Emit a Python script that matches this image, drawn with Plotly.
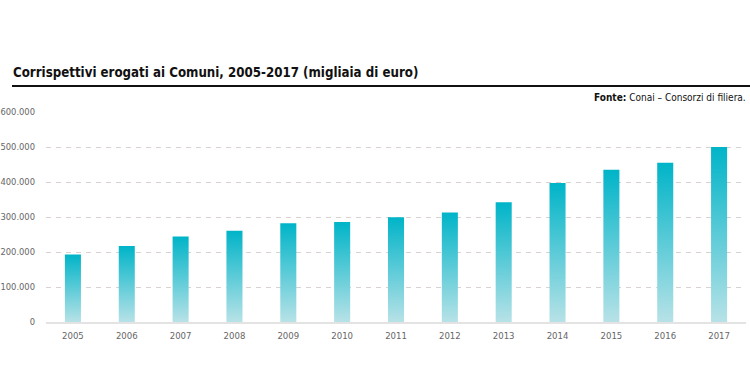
import plotly.graph_objects as go

years = ["2005", "2006", "2007", "2008", "2009", "2010", "2011",
         "2012", "2013", "2014", "2015", "2016", "2017"]
values = [193000, 217000, 244000, 261000, 282000, 286000, 299000,
          313000, 342000, 397000, 435000, 455000, 500000]
y_tick_vals = [0, 100000, 200000, 300000, 400000, 500000, 600000]
y_tick_text = ["0", "100.000", "200.000", "300.000", "400.000", "500.000", "600.000"]

title_text = "Corrispettivi erogati ai Comuni, 2005-2017 (migliaia di euro)"
source_text = "<b>Fonte:</b> Conai – Consorzi di filiera."

FONT = "DejaVu Sans Condensed, Liberation Sans Narrow, sans-serif"
HALF = 0.149

fig = go.Figure()
for i, (yr, v) in enumerate(zip(years, values)):
    fig.add_trace(go.Scatter(
        x=[i - HALF, i + HALF, i + HALF, i - HALF, i - HALF],
        y=[0, 0, v, v, 0],
        mode="lines",
        fill="toself",
        line=dict(width=0),
        fillgradient=dict(type="vertical",
                          colorscale=[[0, "#b7e2e7"], [1, "#00b4c8"]]),
        hoverinfo="text",
        text=f"{yr}: {v:,}".replace(",", "."),
        showlegend=False,
    ))

W, H = 750, 390
ml, mr, mt, mb = 46, 4, 112, 68
pw, ph = W - ml - mr, H - mt - mb

def px(x):
    return (x - ml) / pw

def py(y):
    return (H - mb - y) / ph

fig.update_layout(
    width=W, height=H,
    margin=dict(l=ml, r=mr, t=mt, b=mb, autoexpand=False),
    paper_bgcolor="white", plot_bgcolor="white",
    font=dict(family=FONT, color="#666666", size=9.5),
    xaxis=dict(
        range=[-0.5, len(years) - 0.5],
        tickvals=list(range(len(years))),
        ticktext=years,
        showgrid=False, zeroline=False, automargin=False,
        showline=True, linecolor="#e3e3e3", linewidth=2,
        ticks="", ticklabelstandoff=4,
        tickfont=dict(family=FONT, color="#666666", size=9.5),
    ),
    yaxis=dict(
        range=[0, 600000],
        tickvals=y_tick_vals, ticktext=y_tick_text,
        showgrid=True, gridcolor="#d8d2d2", griddash="5px,5px", gridwidth=1,
        zeroline=False, showline=False, automargin=False,
        ticks="", ticklabelstandoff=10,
        tickfont=dict(family=FONT, color="#666666", size=9.3),
    ),
    shapes=[dict(type="line", xref="paper", yref="paper",
                 x0=px(12), x1=px(752), y0=py(86), y1=py(86),
                 line=dict(color="#111111", width=2))],
    annotations=[
        dict(text="<b>" + title_text + "</b>", xref="paper", yref="paper",
             x=px(11), y=py(72), xanchor="left", yanchor="middle",
             showarrow=False, font=dict(family=FONT, size=13.2, color="#111111")),
        dict(text=source_text, xref="paper", yref="paper",
             x=px(748), y=py(97), xanchor="right", yanchor="middle",
             showarrow=False, font=dict(family=FONT, size=10, color="#111111")),
    ],
)

fig.write_html("out.html",
               config={"displayModeBar": False},
               post_script="document.body.style.margin='0';document.body.style.padding='0';")
